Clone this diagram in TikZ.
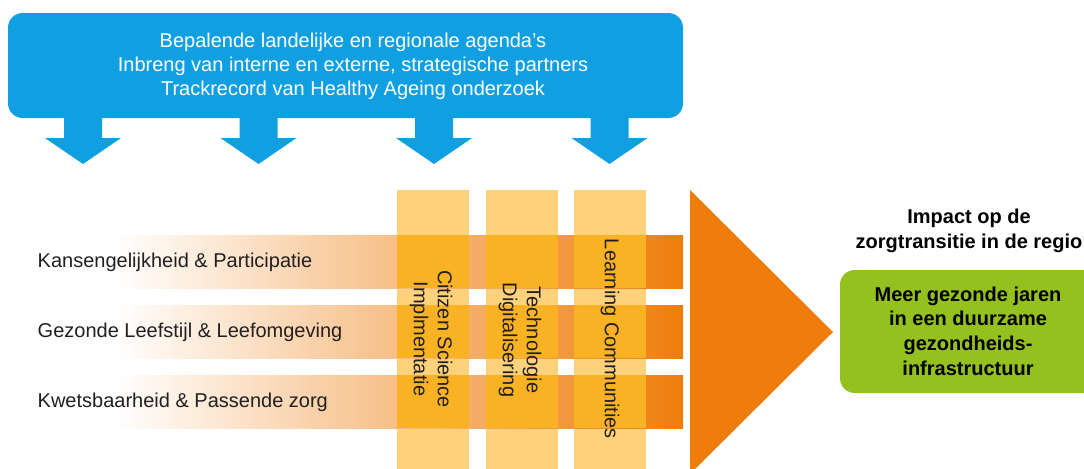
\documentclass[tikz,border=0pt]{standalone}
\usepackage{fontspec}
\setmainfont{Liberation Sans}
\usetikzlibrary{calc}

\definecolor{agendablue}{RGB}{16,160,226}
\definecolor{pillarlight}{RGB}{253,210,122}
\definecolor{pillardark}{RGB}{249,178,36}
\definecolor{barorange}{RGB}{238,125,12}
\definecolor{impactgreen}{RGB}{149,193,31}
\definecolor{inktext}{RGB}{35,31,32}

\begin{document}
\begin{tikzpicture}[
		x=0.75pt, y=-0.75pt, % pixel grid, y pointing down
		font=\fontsize{15}{18}\selectfont,
		rowlabel/.style={anchor=west, text=inktext},
		pillarlabel/.style={rotate=-90, align=center, text=inktext},
		boldlabel/.style={align=center, text=black, font=\fontsize{15}{18.5}\selectfont\bfseries}
		]
		
		% --- 1. Frame ---
		\useasboundingbox (0,0) rectangle (1084,468);
		\clip (0,0) rectangle (1084,468);
		
		% --- 2. Agenda box and its arrows ---
		\fill[agendablue, rounded corners=11pt] (8,13) rectangle (683,118);
		\node[text=white, align=center] (agenda) at (353,66) {%
			Bepalende landelijke en regionale agenda’s\\
			Inbreng van interne en externe, strategische partners\\
			Trackrecord van Healthy Ageing onderzoek};
		\foreach \ax in {83,258.5,434,609.5} {
			\fill[agendablue] (\ax-19,116) -- (\ax+19,116) -- (\ax+19,138) -- (\ax+38,138)
				-- (\ax,164) -- (\ax-38,138) -- (\ax-19,138) -- cycle;
		}
		
		% --- 3. Pillars (background) ---
		\foreach \px in {397,486,574}
			\fill[pillarlight] (\px,190) rectangle ++(72,290);
		
		% --- 4. Themes crossing the pillars ---
		\foreach \ry in {235,305,375} {
			\shade[left color=white, right color=barorange] (115,\ry) rectangle (683,\ry+53);
			\foreach \px in {397,486,574}
				\fill[pillardark] (\px,\ry) rectangle ++(72,53);
		}
		
		% --- 5. Labels ---
		\node[rowlabel] (kansen) at (33,262) {Kansengelijkheid \& Participatie};
		\node[rowlabel] (leefstijl) at (33,332) {Gezonde Leefstijl \& Leefomgeving};
		\node[rowlabel] (zorg) at (33,402) {Kwetsbaarheid \& Passende zorg};
		
		\node[pillarlabel] (citizen) at (431,339) {Citizen Science\\Implmentatie};
		\node[pillarlabel] (techno) at (520,340) {Technologie\\Digitalisering};
		\node[pillarlabel] (learning) at (610,339) {Learning Communities};
		
		% --- 6. Impact ---
		\fill[barorange] (690,190) -- (833,332) -- (690,474) -- cycle;
		\node[boldlabel] (impact) at (969,231) {Impact op de\\zorgtransitie in de regio};
		\fill[impactgreen, rounded corners=11pt] (840,270) rectangle (1098,393);
		\node[boldlabel] (goal) at (968,331) {Meer gezonde jaren\\in een duurzame\\gezondheids-\\infrastructuur};
		
	\end{tikzpicture}
\end{document}
